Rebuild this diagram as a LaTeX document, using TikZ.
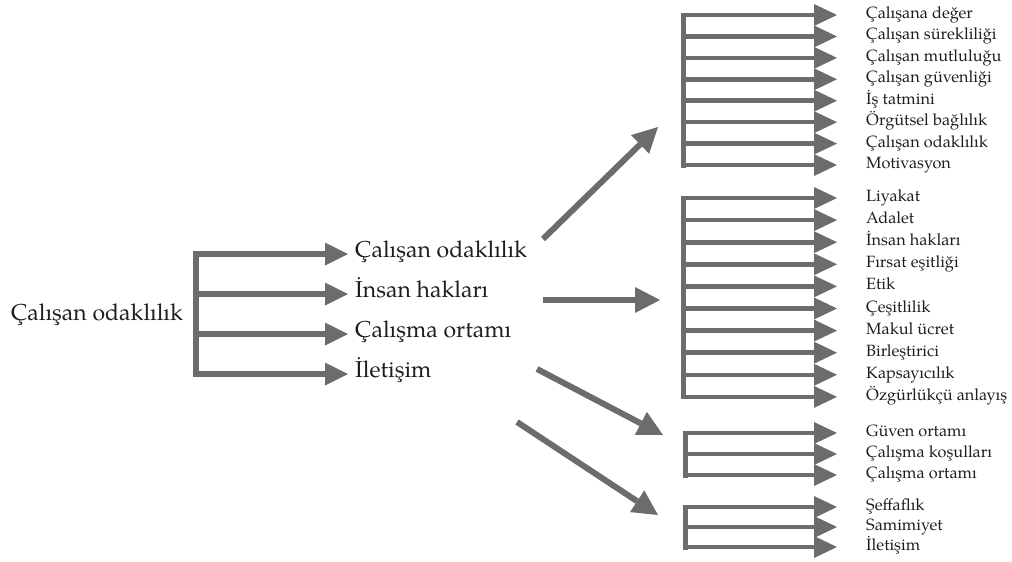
\documentclass[tikz,border=0pt]{standalone}
\usepackage{fontspec}
\setmainfont{TeX Gyre Pagella}
\usetikzlibrary{arrows.meta}
\definecolor{ag}{RGB}{108,108,108}
\definecolor{tx}{RGB}{30,30,30}
\tikzset{
  bar/.style={draw=ag, line width=5pt, line cap=rect},
  arrA/.style={draw=ag, line width=6pt, -{Triangle[length=23pt,width=23pt,line width=0pt]}},
  arrD/.style={draw=ag, line width=6pt, -{Triangle[length=25pt,width=26pt,line width=0pt]}},
  arrR/.style={draw=ag, line width=4.6pt, -{Triangle[length=23pt,width=22pt,line width=0pt]}},
  big/.style={font=\fontsize{23}{26}\selectfont, text=tx, inner sep=0pt, text height=0.9em, text depth=0.2em},
  small/.style={font=\fontsize{16.3}{18}\selectfont, text=tx, inner sep=0pt, anchor=west, text height=0.9em, text depth=0.2em},
}
\begin{document}
\begin{tikzpicture}[x=1pt,y=-1pt]
\useasboundingbox (0,0) rectangle (1012,562);
% left
\node[big] (L) at (97,317) {Çalışan odaklılık};
\coordinate (B) at (196,254);
\node[big,anchor=west] (M1) at (355,254) {Çalışan odaklılık};
\node[big,anchor=west] (M2) at (355,294) {İnsan hakları};
\node[big,anchor=west] (M3) at (355,334) {Çalışma ortamı};
\node[big,anchor=west] (M4) at (355,374) {İletişim};
\draw[bar,line width=6pt] (B|-M1) -- (B|-M4);
\foreach \m in {M1,M2,M3,M4}{
  \draw[arrA] (B|-\m) -- ([xshift=-7pt]\m.west);
}
% diagonal arrows
\coordinate (d1s) at (543,239); \coordinate (d1e) at (658,127);
\coordinate (d2s) at (543,300); \coordinate (d2e) at (660,300);
\coordinate (d3s) at (537,369); \coordinate (d3e) at (663,435);
\coordinate (d4s) at (517,422); \coordinate (d4e) at (658,515);
\draw[arrD] (d1s) -- (d1e);
\draw[arrD] (d2s) -- (d2e);
\draw[arrD] (d3s) -- (d3e);
\draw[arrD] (d4s) -- (d4e);
% group 1
\coordinate (g1) at (683,15);
\foreach \t [count=\i from 0] in {Çalışana değer,Çalışan sürekliliği,Çalışan mutluluğu,Çalışan güvenliği,İş tatmini,Örgütsel bağlılık,Çalışan odaklılık,Motivasyon}{
  \node[small] (a\i) at (866,{15+21.43*\i}) {\t};
  \draw[arrR] (g1|-a\i) -- ([xshift=-29pt]a\i.west);
}
\draw[bar] (g1|-a0) -- (g1|-a7);
% group 2
\coordinate (g2) at (683,198);
\foreach \t [count=\i from 0] in {Liyakat,Adalet,İnsan hakları,Fırsat eşitliği,Etik,Çeşitlilik,Makul ücret,Birleştirici,Kapsayıcılık,Özgürlükçü anlayış}{
  \node[small] (b\i) at (866,{198+22.1*\i}) {\t};
  \draw[arrR] (g2|-b\i) -- ([xshift=-29pt]b\i.west);
}
\draw[bar] (g2|-b0) -- (g2|-b9);
% group 3
\coordinate (g3) at (685,433);
\foreach \t [count=\i from 0] in {Güven ortamı,Çalışma koşulları,Çalışma ortamı}{
  \node[small] (c\i) at (866,{433+21*\i}) {\t};
  \draw[arrR] (g3|-c\i) -- ([xshift=-29pt]c\i.west);
}
\draw[bar] (g3|-c0) -- (g3|-c2);
% group 4
\coordinate (g4) at (685,507);
\foreach \t [count=\i from 0] in {Şeffaflık,Samimiyet,İletişim}{
  \node[small] (e\i) at (866,{507+20*\i}) {\t};
  \draw[arrR] (g4|-e\i) -- ([xshift=-29pt]e\i.west);
}
\draw[bar] (g4|-e0) -- (g4|-e2);
\end{tikzpicture}
\end{document}
